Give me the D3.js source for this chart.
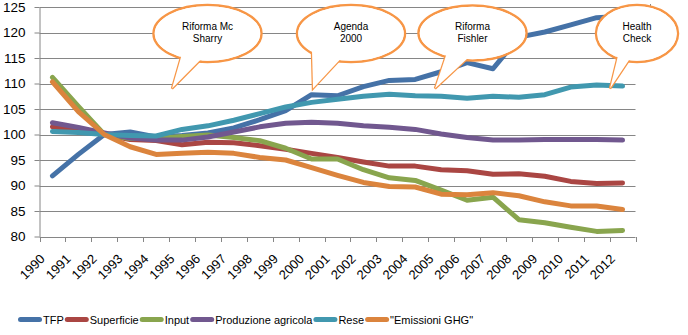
<!DOCTYPE html>
<html>
<head>
<meta charset="utf-8">
<script src="https://cdn.jsdelivr.net/npm/d3@7"></script>
<style>
  body { margin: 0; background: #fff; }
  svg { display: block; }
</style>
</head>
<body>
<svg id="chart" width="688" height="335"></svg>
<script>
// index numbers, 1992 = 100
const years = ["1990","1991","1992","1993","1994","1995","1996","1997","1998","1999","2000","2001",
               "2002","2003","2004","2005","2006","2007","2008","2009","2010","2011","2012"];
const yTicks = [80, 85, 90, 95, 100, 105, 110, 115, 120, 125];

const tfp        = [91.9, 96.1, 100, 100.5, 99.5, 99.8, 100.3, 101.3, 102.9, 104.7, 107.8, 107.6,
                    109.4, 110.6, 110.8, 112.3, 114.1, 112.9, 119.1, 120.1, 121.5, 122.9, 123.2];
const superficie = [101.5, 100.8, 100, 99.0, 98.8, 98.0, 98.5, 98.4, 97.8, 97.1, 96.3, 95.5,
                    94.6, 93.8, 93.8, 93.1, 92.9, 92.2, 92.3, 91.8, 90.8, 90.4, 90.5];
const input      = [111.2, 105.5, 100, 99.2, 99.2, 99.6, 99.9, 99.4, 98.8, 97.3, 95.2, 95.2,
                    93.1, 91.5, 91.0, 89.1, 87.1, 87.7, 83.3, 82.7, 81.8, 81.0, 81.2];
const produzione = [102.3, 101.4, 100.3, 99.3, 98.9, 98.9, 99.5, 100.5, 101.5, 102.2, 102.4, 102.2,
                    101.7, 101.4, 101.0, 100.1, 99.4, 98.9, 98.9, 99.0, 99.0, 99.0, 98.9];
const rese       = [100.6, 100.4, 100, 99.8, 99.7, 101.0, 101.7, 102.8, 104.1, 105.4, 106.3, 106.9,
                    107.5, 107.9, 107.6, 107.5, 107.1, 107.5, 107.3, 107.8, 109.3, 109.7, 109.5];
const emissioni  = [110.3, 104.5, 100, 97.6, 96.1, 96.3, 96.5, 96.3, 95.5, 95.0, 93.5, 92.0,
                    90.6, 89.8, 89.7, 88.3, 88.2, 88.6, 88.0, 86.8, 86.0, 86.0, 85.3];

const seriesNames = ["TFP", "Superficie", "Input", "Produzione agricola", "Rese", "\"Emissioni GHG\""];
const seriesValues = [tfp, superficie, input, produzione, rese, emissioni];
const colors = ["#4572A7", "#AA4643", "#89A54E", "#71588F", "#4198AF", "#DB843D"];

const calloutTexts = [["Riforma Mc", "Sharry"], ["Agenda", "2000"], ["Riforma", "Fishler"], ["Health", "Check"]];

const svg = d3.select("#chart");
const plotLeft = 39.5, plotRight = 635.5, plotTop = 7, plotBottom = 236.5;
const axisColor = "#868686";

const x = d3.scaleBand().domain(years).range([plotLeft, plotRight]).padding(0);
const y = d3.scaleLinear().domain([80, 125]).range([plotBottom, plotTop]);
const cx = d => x(d) + x.bandwidth() / 2;

// horizontal gridlines
svg.append("g").selectAll("line")
  .data(yTicks.slice(1))
  .enter().append("line")
  .attr("x1", plotLeft).attr("x2", d => d === 125 ? 650 : plotRight)
  .attr("y1", d => Math.round(y(d)) + 0.5).attr("y2", d => Math.round(y(d)) + 0.5)
  .attr("stroke", axisColor).attr("stroke-width", 1);
svg.append("line")
  .attr("x1", 650.5).attr("x2", 650.5).attr("y1", 4).attr("y2", 11)
  .attr("stroke", axisColor);

// y axis
const yAxis = svg.append("g")
  .attr("transform", `translate(${plotLeft},0)`)
  .call(d3.axisLeft(y).tickValues(yTicks).tickSize(5).tickPadding(9).tickSizeOuter(0));
yAxis.select(".domain").attr("stroke", axisColor);
yAxis.selectAll(".tick line").attr("stroke", axisColor);
yAxis.selectAll("text")
  .attr("font-family", "Liberation Sans, Arial, sans-serif")
  .attr("font-size", "13.5px").attr("fill", "#000");

// x axis: ticks sit between the categories
const xg = svg.append("g");
xg.append("line")
  .attr("x1", plotLeft).attr("x2", plotRight)
  .attr("y1", Math.round(plotBottom) + 0.5).attr("y2", Math.round(plotBottom) + 0.5)
  .attr("stroke", axisColor);
xg.selectAll("line.tk")
  .data(years.concat(["end"]))
  .enter().append("line").attr("class", "tk")
  .attr("x1", d => Math.round(d === "end" ? plotRight : x(d)) + 0.5)
  .attr("x2", d => Math.round(d === "end" ? plotRight : x(d)) + 0.5)
  .attr("y1", Math.round(plotBottom)).attr("y2", Math.round(plotBottom) + 5)
  .attr("stroke", axisColor);
xg.selectAll("text")
  .data(years)
  .enter().append("text")
  .attr("transform", d => `translate(${cx(d) - 10},${plotBottom + 20}) rotate(-45)`)
  .attr("text-anchor", "end")
  .attr("dy", "0.35em")
  .attr("font-family", "Liberation Sans, Arial, sans-serif")
  .attr("font-size", "13px")
  .text(d => d);

// series lines
const line = d3.line()
  .x((d, i) => cx(years[i]))
  .y(d => y(d));

svg.append("g").selectAll("path")
  .data(seriesValues)
  .enter().append("path")
  .attr("d", line)
  .attr("fill", "none")
  .attr("stroke", (d, i) => colors[i])
  .attr("stroke-width", 5)
  .attr("stroke-linejoin", "round")
  .attr("stroke-linecap", "round");

// callouts: ellipse with a pointed tail
const callouts = [
  { cx: 207.5, cy: 33.5, rx: 54, ry: 28.5, base: [-26, -6], tip: [172, 88.5] },
  { cx: 351,   cy: 33.5, rx: 54, ry: 28.5, base: [-39, -10], tip: [313, 88.5] },
  { cx: 472.5, cy: 33,   rx: 54, ry: 27.5, base: [-26, -4], tip: [435, 88.5] },
  { cx: 637,   cy: 33.5, rx: 41, ry: 28.5, base: [-19, -7], tip: [610, 88.5] }
];
callouts.forEach((c, i) => {
  const onEdge = dx => [c.cx + dx, c.cy + c.ry * Math.sqrt(1 - (dx / c.rx) ** 2) - 3];
  const wedge = [onEdge(c.base[0]), c.tip, onEdge(c.base[1])];
  const g = svg.append("g");
  // stroke pass, then white fill pass to merge the outlines
  g.append("ellipse").attr("cx", c.cx).attr("cy", c.cy).attr("rx", c.rx).attr("ry", c.ry)
    .attr("fill", "#fff").attr("stroke", "#F79646").attr("stroke-width", 2.5);
  g.append("path").attr("d", d3.line()(wedge) + "Z")
    .attr("fill", "#fff").attr("stroke", "#F79646").attr("stroke-width", 2.5)
    .attr("stroke-linejoin", "miter");
  g.append("ellipse").attr("cx", c.cx).attr("cy", c.cy).attr("rx", c.rx - 1.25).attr("ry", c.ry - 1.25)
    .attr("fill", "#fff");
  g.append("path").attr("d", d3.line()(wedge) + "Z").attr("fill", "#fff");
  g.selectAll("text")
    .data(calloutTexts[i])
    .enter().append("text")
    .attr("x", c.cx).attr("y", (d, j) => c.cy - 3.5 + j * 12)
    .attr("text-anchor", "middle")
    .attr("font-family", "Liberation Sans, Arial, sans-serif")
    .attr("font-size", "10px")
    .text(d => d);
});

// legend
const legend = svg.append("g");
let lx = 18;
seriesNames.forEach((name, i) => {
  legend.append("line")
    .attr("x1", lx + 2.5).attr("x2", lx + 21.5).attr("y1", 319.5).attr("y2", 319.5)
    .attr("stroke", colors[i]).attr("stroke-width", 5).attr("stroke-linecap", "round");
  const t = legend.append("text")
    .attr("x", lx + 25).attr("y", 324)
    .attr("font-family", "Liberation Sans, Arial, sans-serif")
    .attr("font-size", "11px")
    .text(name);
  lx += 25 + t.node().getComputedTextLength() + 1;
});
</script>
</body>
</html>
